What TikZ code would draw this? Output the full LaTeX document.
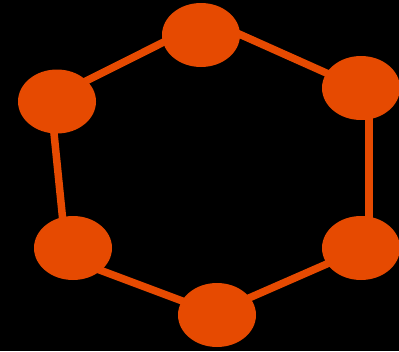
\documentclass[tikz,border=0pt]{standalone}
\usetikzlibrary{shapes.geometric,calc}
\definecolor{orng}{RGB}{230,74,1}
\pgfdeclarelayer{bgl}
\pgfdeclarelayer{edgel}
\pgfsetlayers{bgl,edgel,main}
\begin{document}
\begin{tikzpicture}[x=1pt,y=-1pt,
  vert/.style={ellipse,fill=orng,minimum width=78pt,minimum height=64pt,inner sep=0pt},
  edge/.style={draw=orng,line width=7.5pt}]
\begin{pgfonlayer}{bgl}
\fill[black] (0,0) rectangle (399,351);
\end{pgfonlayer}
\useasboundingbox (0,0) rectangle (399,351);
\node[vert] (t) at (201,35) {};
\node[vert] (rt) at (361,88) {};
\node[vert] (l) at (57,101.5) {};
\node[vert] (lb) at (73,248) {};
\node[vert] (rb) at (361,248) {};
\node[vert] (b) at (217,315) {};
\begin{pgfonlayer}{edgel}
\draw[edge] ($(t)+(0,-18)$) -- ($(rt)+(0,0.5)$);
\draw[edge] ($(rt)+(8,0)$) -- ($(rb)+(8,0)$);
\draw[edge] ($(rb)+(0,1)$) -- ($(b)+(0,-3)$);
\draw[edge] ($(b)+(0,-1)$) -- ($(lb)+(0,12)$);
\draw[edge] ($(lb)+(-7.4,0)$) -- ($(l)+(-6.2,0)$);
\draw[edge] ($(l)+(0,-6)$) -- ($(t)+(0,-11.6)$);
\end{pgfonlayer}
\end{tikzpicture}
\end{document}
